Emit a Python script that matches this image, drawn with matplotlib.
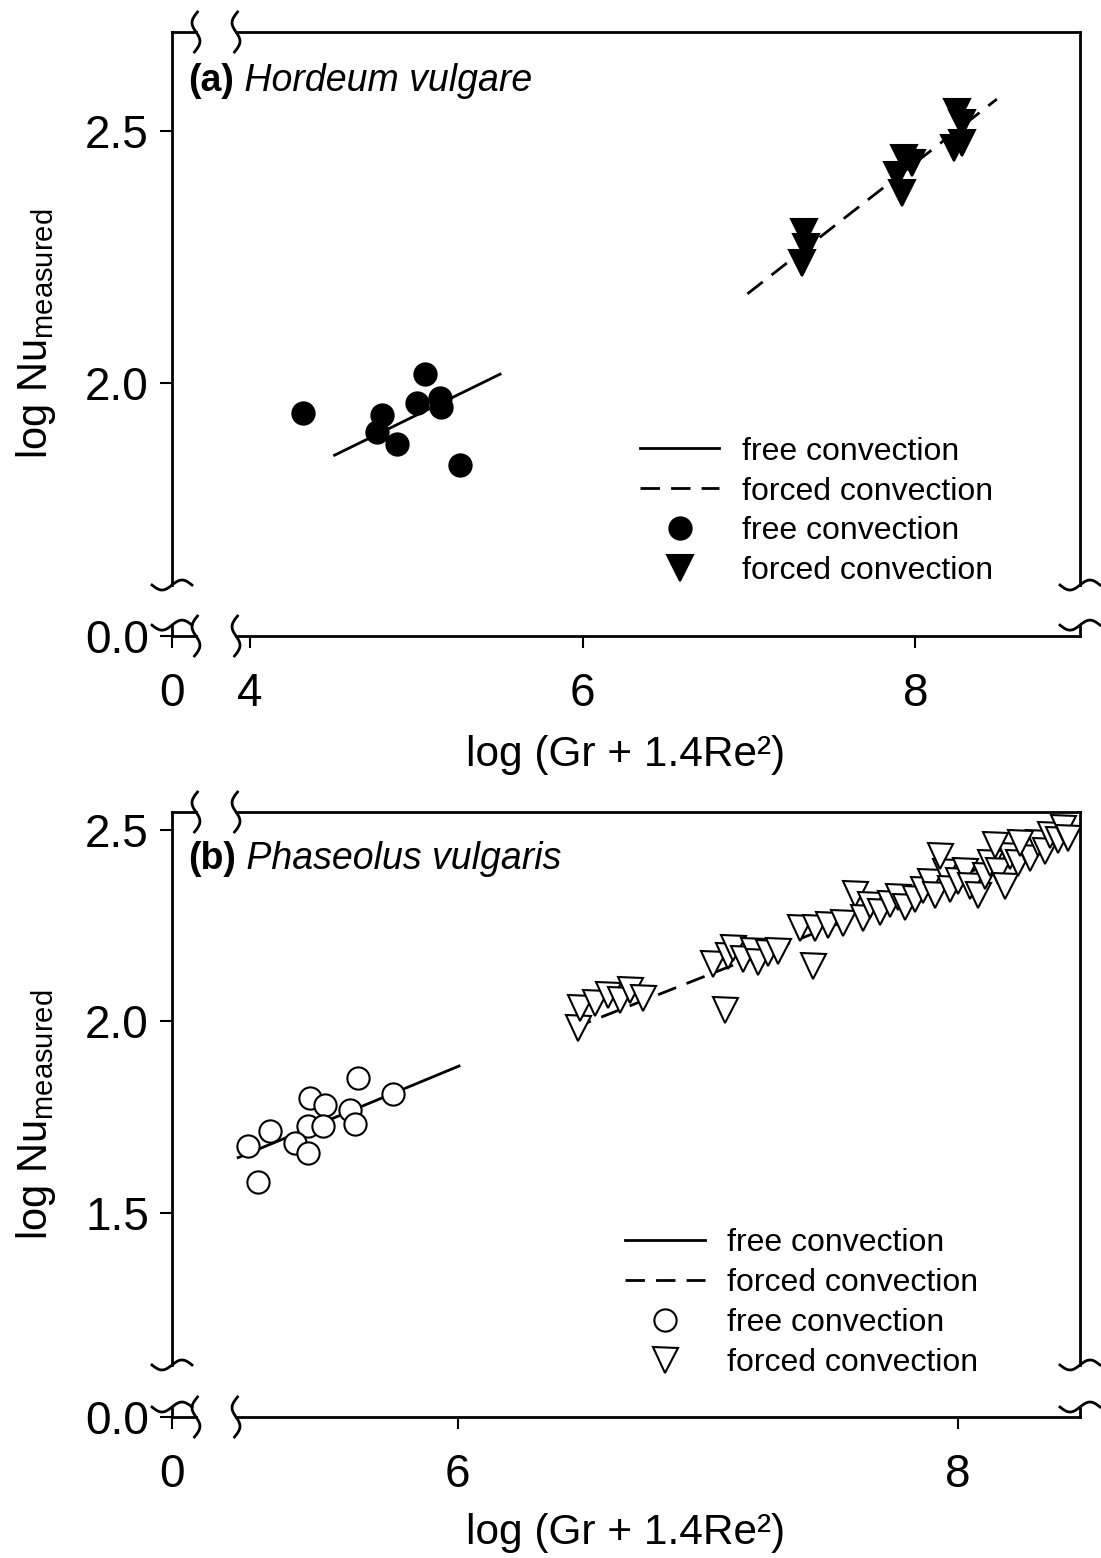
import numpy as np
import matplotlib
matplotlib.use("Agg")
import matplotlib.pyplot as plt
import matplotlib.transforms as mtransforms
from matplotlib.lines import Line2D

plt.rcParams['font.family'] = ['Liberation Sans', 'DejaVu Sans']
plt.rcParams['mathtext.default'] = 'regular'

# ---- (a) Hordeum vulgare ----
a_free_x = [4.32, 4.79, 4.76, 4.88, 5.00, 5.05, 5.14, 5.15, 5.26]
a_free_y = [1.940, 1.937, 1.903, 1.879, 1.961, 2.019, 1.970, 1.953, 1.837]
a_forced_x = [7.33, 7.34, 7.32, 7.93, 7.89, 7.92, 7.98, 8.25, 8.28, 8.28, 8.23]
a_forced_y = [2.300, 2.270, 2.238, 2.446, 2.413, 2.377, 2.437, 2.538, 2.516, 2.476, 2.466]
a_free_fit_x = [4.50, 5.51]
a_free_fit_y = [1.856, 2.019]
a_forced_fit_x = [6.99, 8.49]
a_forced_fit_y = [2.177, 2.563]

# ---- (b) Phaseolus vulgaris ----
b_free_x = [5.60, 5.74, 5.41, 5.47, 5.57, 5.59, 5.40, 5.46, 5.25, 5.35, 5.40, 5.16, 5.20]
b_free_y = [1.853, 1.811, 1.801, 1.781, 1.768, 1.731, 1.728, 1.726, 1.714, 1.682, 1.656, 1.674, 1.580]
b_forced_x = [6.48, 6.49, 6.55, 6.60, 6.65, 6.69, 6.74, 7.07, 7.02, 7.08, 7.10, 7.14,
              7.18, 7.20, 7.24, 7.28, 7.42, 7.37, 7.43, 7.48, 7.54, 7.59, 7.62, 7.65,
              7.69, 7.73, 7.76, 7.79, 7.83, 7.86, 7.89, 7.91, 7.95, 7.97, 8.00, 8.03,
              8.05, 8.08, 8.11, 8.13, 8.16, 8.19, 8.21, 8.24, 8.27, 8.29, 8.32, 8.35,
              8.37, 8.40, 8.42, 8.44, 7.93, 8.15, 8.25]
b_forced_y = [1.982, 2.034, 2.047, 2.068, 2.055, 2.081, 2.060, 2.029, 2.151, 2.172, 2.191, 2.164,
              2.185, 2.154, 2.178, 2.185, 2.146, 2.243, 2.245, 2.251, 2.258, 2.334, 2.269, 2.303,
              2.285, 2.308, 2.326, 2.298, 2.321, 2.342, 2.363, 2.329, 2.389, 2.347, 2.368, 2.394,
              2.355, 2.329, 2.381, 2.415, 2.394, 2.355, 2.433, 2.415, 2.452, 2.426, 2.467, 2.446,
              2.486, 2.473, 2.504, 2.478, 2.433, 2.460, 2.465]
b_free_fit_x = [5.11, 6.01]
b_free_fit_y = [1.643, 1.885]
b_forced_fit_x = [6.46, 8.49]
b_forced_fit_y = [1.982, 2.504]

legend_labels = ['free convection', 'forced convection', 'free convection', 'forced convection']

LW = 2.0
fig = plt.figure(figsize=(11.01, 15.58), dpi=100)


def broken_scale(ax, axis, cut, gap, ppu):
    """Piecewise linear scale: [0, cut] squeezed into `gap`, then ppu per unit."""
    def fwd(v):
        v = np.asarray(v, dtype=float)
        return np.where(v < cut, v / cut * gap, gap + (v - cut) * ppu)

    def inv(t):
        t = np.asarray(t, dtype=float)
        return np.where(t < gap, t / gap * cut, cut + (t - gap) / ppu)
    if axis == 'x':
        ax.set_xscale('function', functions=(fwd, inv))
    else:
        ax.set_yscale('function', functions=(fwd, inv))


def squiggle(ax, xa, ya, vertical):
    # axis-break mark, drawn in inches around an axes-fraction anchor
    s = np.linspace(0, 1, 50)
    a, h = 0.05, 0.40
    if vertical:
        xs = -a * np.sin(2 * np.pi * s) + 0.3 * a * np.cos(np.pi * s)
        ys = (0.5 - s) * h
    else:
        xs, ys = (s - 0.5) * h, -a * np.sin(2 * np.pi * s)
    tr = fig.dpi_scale_trans + mtransforms.ScaledTranslation(xa, ya, ax.transAxes)
    ax.add_line(Line2D(xs, ys, transform=tr, color='k', lw=LW, clip_on=False))


def frame(ax, xb0, xb1, yb0, yb1):
    kw = dict(transform=ax.transAxes, color='k', lw=LW, clip_on=False,
              solid_capstyle='projecting')
    for yy in (0, 1):
        ax.plot([0, xb0], [yy, yy], **kw)
        ax.plot([xb1, 1], [yy, yy], **kw)
        squiggle(ax, xb0, yy, True)
        squiggle(ax, xb1, yy, True)
    for xx in (0, 1):
        ax.plot([xx, xx], [0, yb0], **kw)
        ax.plot([xx, xx], [yb1, 1], **kw)
        squiggle(ax, xx, yb0, False)
        squiggle(ax, xx, yb1, False)


def panel(rect, letter, name, free_x, free_y, forced_x, forced_y,
          ffx, ffy, fcx, fcy, filled, xcut, xppu, ycut, yppu, ytop,
          xticks, yticks, yb0, yb1, xlab_y, title_y, leg_anchor):
    ax = fig.add_axes(rect)
    for sp in ax.spines.values():
        sp.set_visible(False)
    broken_scale(ax, 'x', xcut, 65, xppu)
    broken_scale(ax, 'y', ycut, 51, yppu)
    ax.set_xlim(0, 8.99 if xppu < 200 else 8.49)
    ax.set_ylim(0, ytop)

    ax.plot(ffx, ffy, color='k', lw=2.0, solid_capstyle='butt')
    ax.plot(fcx, fcy, color='k', lw=2.0, dashes=(7, 4))
    fc = 'k' if filled else 'white'
    ax.plot(free_x, free_y, 'o', ls='none', ms=16, mfc=fc, mec='k', mew=1.5)
    ax.plot(forced_x, forced_y, 'v', ls='none', ms=19 if filled else 18,
            mfc=fc, mec='k', mew=1.5)

    ax.set_xticks(xticks)
    ax.set_xticklabels([str(t) for t in xticks])
    ax.set_yticks(yticks)
    ax.set_yticklabels(['%.1f' % t for t in yticks])
    ax.tick_params(direction='out', length=8.6, width=1.5, labelsize=33,
                   top=False, right=False)
    ax.tick_params(axis='y', pad=8)
    ax.tick_params(axis='x', pad=17)
    ax.minorticks_off()

    ax.set_ylabel(r'log Nu$_{measured}$', fontsize=30)
    ax.yaxis.set_label_coords(-0.125, 0.5)
    ax.set_xlabel('log (Gr + 1.4Re²)', fontsize=30.5, va='top')
    ax.xaxis.set_label_coords(0.5, xlab_y)

    frame(ax, 0.0264, 0.0705, yb0, yb1)

    t1 = ax.text(0.0176, title_y, letter, transform=ax.transAxes, fontsize=27,
                 fontweight='bold', va='bottom', ha='left')
    ax.annotate(' ' + name, xy=(1, 0), xycoords=t1, fontsize=27, style='italic',
                va='bottom', ha='left')

    handles = [Line2D([], [], color='k', lw=2.0),
               Line2D([], [], color='k', lw=2.0, dashes=(7, 4)),
               Line2D([], [], marker='o', ls='none', ms=16, mfc=fc, mec='k', mew=1.5),
               Line2D([], [], marker='v', ls='none', ms=19 if filled else 18,
                      mfc=fc, mec='k', mew=1.5)]
    ax.legend(handles, legend_labels, loc='upper left', bbox_to_anchor=leg_anchor,
              frameon=False, fontsize=23, handlelength=2.5, handletextpad=0.7,
              labelspacing=0.31, borderpad=0, borderaxespad=0, numpoints=1)
    return ax


W, H = 1101, 1558
panel([172 / W, 1 - 636 / H, 908 / W, 604 / H], '(a)', 'Hordeum vulgare',
      a_free_x, a_free_y, a_forced_x, a_forced_y,
      a_free_fit_x, a_free_fit_y, a_forced_fit_x, a_forced_fit_y, True,
      3.92, 166.5, 1.6, 504, 2.696, [0, 4, 6, 8], [0.0, 2.0, 2.5],
      0.018, 0.0844, -0.164, 0.889, (0.515, 0.330))
panel([172 / W, 1 - 1417 / H, 908 / W, 605 / H], '(b)', 'Phaseolus vulgaris',
      b_free_x, b_free_y, b_forced_x, b_forced_y,
      b_free_fit_x, b_free_fit_y, b_forced_fit_x, b_forced_fit_y, False,
      5.116, 250, 1.10, 383, 2.547, [0, 6, 8], [0.0, 1.5, 2.0, 2.5],
      0.0165, 0.086, -0.159, 0.893, (0.499, 0.312))

fig.savefig('out.png', dpi=100, facecolor='white')
